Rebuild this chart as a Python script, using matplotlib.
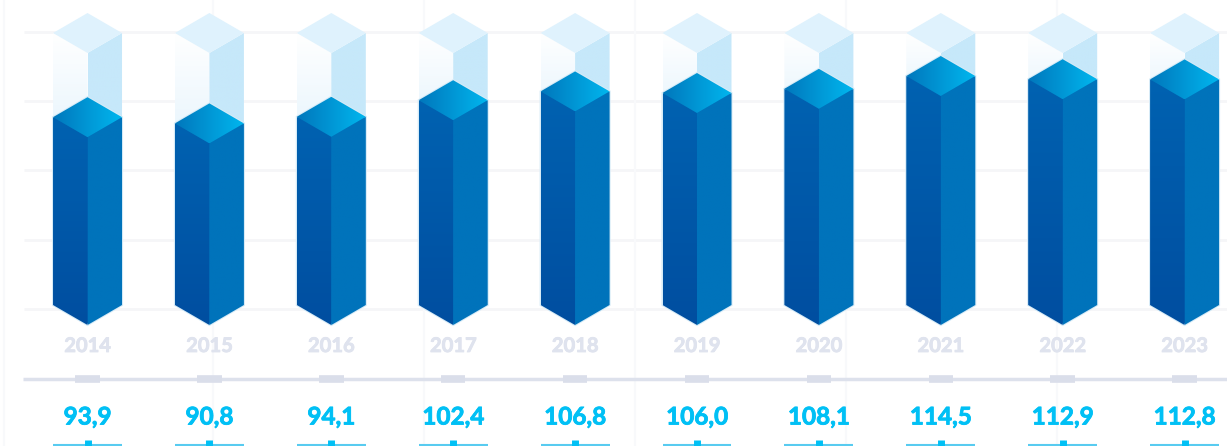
import numpy as np
import matplotlib
matplotlib.use('Agg')
import matplotlib.pyplot as plt
import matplotlib.patheffects as pe
from matplotlib.colors import LinearSegmentedColormap
from matplotlib.patches import Polygon

YEARS = ['2014', '2015', '2016', '2017', '2018', '2019', '2020', '2021', '2022', '2023']
VALUES = [93.9, 90.8, 94.1, 102.4, 106.8, 106.0, 108.1, 114.5, 112.9, 112.8]
LABELS = ['93,9', '90,8', '94,1', '102,4', '106,8', '106,0', '108,1', '114,5', '112,9', '112,8']
GRID_LEVELS = [136.5, 102, 67.5, 32.5, -2]
GHOST_TOP = 136

# one category = 121.9 px, one value unit = 2 px
HALF = 0.283
DEPTH = 10
FONT = 'Lato'


def gradient_poly(ax, pts, c0, c1, horizontal=False, z=2):
    pts = np.array(pts)
    cmap = LinearSegmentedColormap.from_list('g', [c0, c1])
    grad = np.linspace(0, 1, 128)
    grad = grad.reshape(1, -1) if horizontal else grad.reshape(-1, 1)
    ext = [pts[:, 0].min(), pts[:, 0].max(), pts[:, 1].min(), pts[:, 1].max()]
    im = ax.imshow(grad, cmap=cmap, extent=ext, origin='upper', aspect='auto', zorder=z,
                   interpolation='bilinear')
    clip = Polygon(pts, transform=ax.transData, closed=True)
    im.set_clip_path(clip)


fig = plt.figure(figsize=(12.27, 4.46), dpi=100)
ax = fig.add_axes([0, 0, 1, 1])
ax.set_xlim(-0.718, 9.348)
ax.set_ylim(-70.5, 152.5)
ax.axis('off')

# background grid
for lvl in GRID_LEVELS:
    ax.plot([-0.52, 9.348], [lvl, lvl], color='#f5f6f8', lw=2, zorder=0, solid_capstyle='butt')
for gx in [-0.685, 1.03, 2.76, 4.49, 6.22, 7.95]:
    ax.plot([gx, gx], [-70.5, 152.5], color='#f8f9fb', lw=1.5, zorder=0)

for i, (year, v, lab) in enumerate(zip(YEARS, VALUES, LABELS)):
    l, r = i - HALF, i + HALF

    # ghost column up to the full height
    gradient_poly(ax, [(l, v), (i, v - DEPTH), (i, GHOST_TOP - DEPTH), (l, GHOST_TOP)],
                  '#ffffff', '#e8f5fd', z=1)
    gradient_poly(ax, [(r, v), (i, v - DEPTH), (i, GHOST_TOP - DEPTH), (r, GHOST_TOP)],
                  '#c6e8fa', '#c6e8fa', z=1)
    ax.add_patch(Polygon([(l, GHOST_TOP), (i, GHOST_TOP + DEPTH), (r, GHOST_TOP), (i, GHOST_TOP - DEPTH)],
                         closed=True, fc='#dff2fd', ec='none', zorder=1))

    # pale halo round the solid bar, dark base so no seam shows between faces
    ax.add_patch(Polygon([(l, v), (i, v + DEPTH), (r, v), (r, 0), (i, -DEPTH), (l, 0)],
                         closed=True, fc='#0068b5', ec='#d6ebf7', lw=1.5, zorder=1.5))

    # solid faces
    gradient_poly(ax, [(l, v), (i, v - DEPTH), (i, -DEPTH), (l, 0)], '#0062b1', '#004ea0')
    gradient_poly(ax, [(r, v), (i, v - DEPTH), (i, -DEPTH), (r, 0)], '#0073bb', '#0073bb')
    gradient_poly(ax, [(l, v), (i, v + DEPTH), (r, v), (i, v - DEPTH)], '#0077bc', '#00b6ee',
                  horizontal=True, z=3)

    ax.text(i, -20.5, year, ha='center', va='center', fontsize=14.5, fontweight='bold',
            color='#dfe3ee', family=FONT,
            path_effects=[pe.withStroke(linewidth=0.6, foreground='#dfe3ee')])
    ax.plot([i - 0.1, i + 0.1], [-37, -37], color='#dadeea', lw=5.5, zorder=2, solid_capstyle='butt')
    ax.text(i, -56, lab, ha='center', va='center', fontsize=17.5, fontweight='bold',
            color='#00c0f5', family=FONT,
            path_effects=[pe.withStroke(linewidth=0.6, foreground='#00c0f5')])
    # cut off marker at the bottom edge
    ax.plot([l, r], [-70.2, -70.2], color='#58cbf0', lw=1.5, zorder=2, solid_capstyle='butt')
    ax.plot([i, i], [-70.5, -67.5], color='#00c0f5', lw=5, zorder=2, solid_capstyle='butt')

ax.plot([-0.53, 9.348], [-37, -37], color='#dde1ec', lw=2.5, zorder=1.5, solid_capstyle='butt')

fig.savefig('out.png', dpi=100)
